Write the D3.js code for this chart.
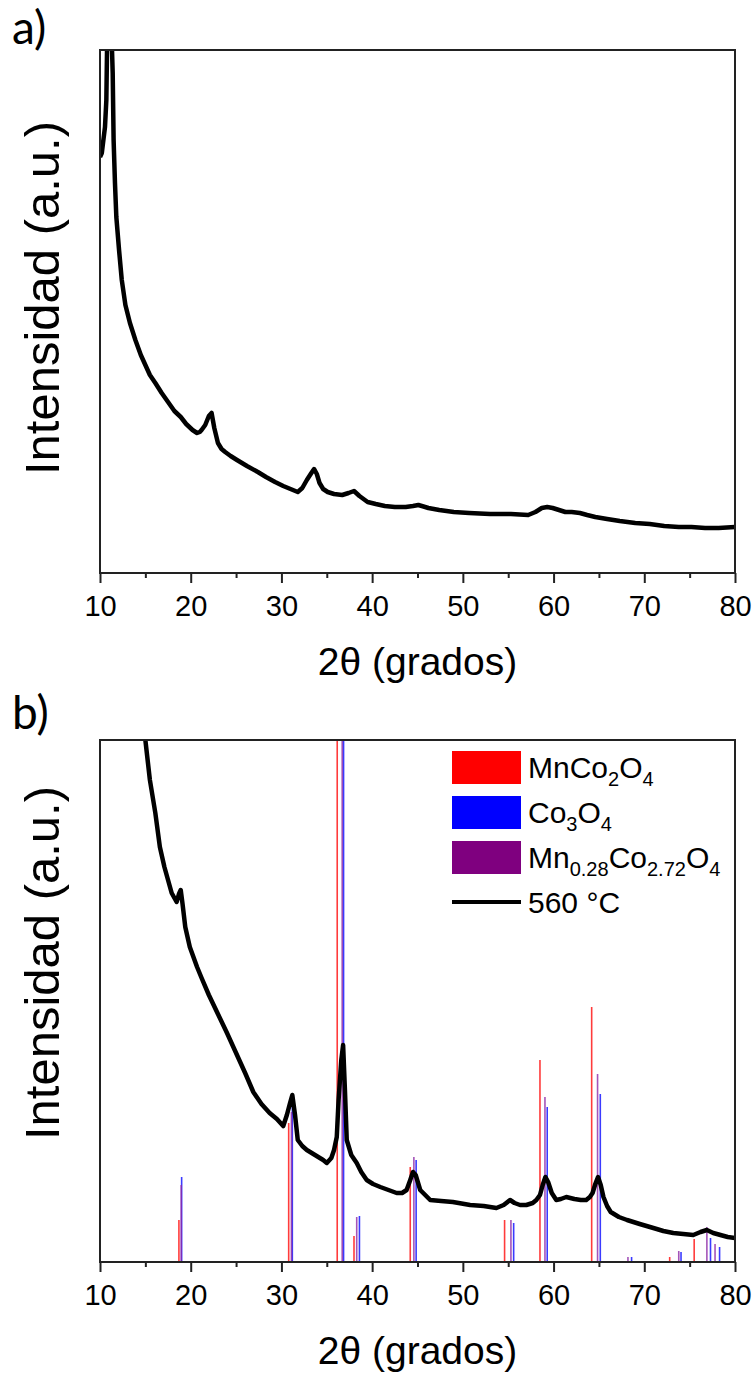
<!DOCTYPE html>
<html>
<head>
<meta charset="utf-8">
<script src="https://cdn.jsdelivr.net/npm/d3@7"></script>
<style>
  body { margin: 0; background: #fff; }
  svg text { font-family: "Liberation Sans", Arial, sans-serif; fill: #000; }
</style>
</head>
<body>
<div id="chart"></div>
<script>
// ---- data (2theta in degrees, intensity in a.u.) ----
var xTicks = [10, 20, 30, 40, 50, 60, 70, 80];
var xMinor = [15, 25, 35, 45, 55, 65, 75];

// panel a) pattern
var thetaA = [10.0, 10.2, 10.4, 10.55, 10.7, 10.8, 11.0, 11.2, 11.4, 11.5, 11.65, 11.8, 12.1, 12.4, 12.8,
  13.3, 13.9, 14.5, 15.0, 15.5, 16.1, 16.8, 17.5, 18.2, 18.9, 19.5, 20.2, 20.7, 21.0, 21.2, 21.6, 22.0,
  22.3, 22.6, 23.0, 23.4, 23.8, 24.4, 25.1, 26.2, 27.4, 28.3, 29.3, 30.2, 31.0, 31.8, 32.3, 32.8, 33.3,
  33.6, 33.9, 34.2, 34.6, 35.1, 35.8, 36.7, 37.4, 38.0, 38.6, 39.5, 40.4, 41.4, 42.5, 43.7, 44.5, 45.1,
  46.2, 47.4, 49.0, 50.7, 53.0, 55.3, 57.2, 58.0, 58.7, 59.3, 59.9, 60.6, 61.3, 62.0, 62.9, 63.7, 64.6,
  65.9, 67.3, 69.0, 70.6, 72.2, 73.8, 75.2, 76.7, 78.2, 80.0];
var intA = [416, 420, 435, 446, 473, 540, 600, 560, 500, 433, 390, 356, 323, 293, 268,
  250, 233, 218, 208, 198, 190, 180, 171, 162, 156, 149, 143, 140, 141, 143, 148, 157,
  160, 145, 130, 124, 121, 117, 113, 107, 101, 96, 91, 87, 84, 81, 85, 93, 100,
  104, 99, 90, 84, 81, 79, 78, 80, 82, 77, 71, 69, 67, 66, 66, 67, 68,
  65, 63, 61, 60, 59, 59, 58, 61, 65, 66, 65, 63, 61, 61, 60, 58, 56,
  54, 52, 50, 49, 47, 46, 46, 45, 45, 46];

// panel b) pattern, 560 °C
var thetaB = [14.8, 15.0, 15.5, 16.1, 16.6, 17.1, 17.5, 17.9, 18.45, 18.7, 18.9, 19.1, 19.4, 19.9, 20.7,
  21.2, 22.0, 23.0, 24.0, 25.0, 26.0, 26.9, 27.8, 28.7, 29.5, 30.2, 30.6, 30.95, 31.2, 31.5, 31.8,
  32.3, 32.8, 33.7, 34.6, 35.0, 35.5, 35.8, 36.1, 36.3, 36.6, 36.8, 37.0, 37.2, 37.7, 38.3, 38.8,
  39.4, 40.1, 40.9, 41.8, 42.7, 43.3, 43.8, 44.2, 44.5, 44.8, 45.3, 46.4, 47.6, 48.9, 50.8, 52.3,
  53.7, 54.5, 55.2, 55.7, 56.3, 57.0, 57.7, 58.1, 58.5, 58.8, 59.1, 59.4, 59.8, 60.3, 60.8, 61.4,
  62.3, 63.0, 63.6, 64.0, 64.3, 64.6, 64.9, 65.2, 65.5, 65.9, 66.3, 67.2, 68.1, 69.5, 71.0, 72.1,
  73.2, 74.3, 75.4, 76.2, 76.9, 77.6, 78.4, 79.2, 80.0];
var intB = [540, 522, 482, 449, 415, 395, 382, 369, 360, 368, 372, 358, 335, 315, 295,
  284, 267, 248, 229, 209, 189, 170, 158, 149, 143, 136, 147, 159, 167, 147, 122,
  116, 112, 107, 102, 99, 104, 112, 125, 162, 202, 217, 172, 122, 107, 99, 90,
  82, 78, 75, 72, 69, 69, 72, 82, 90, 87, 72, 62, 61, 60, 57, 56,
  54, 57, 62, 59, 57, 57, 59, 62, 67, 77, 85, 80, 69, 62, 63, 65,
  63, 62, 62, 65, 69, 78, 85, 77, 65, 56, 50, 45, 42, 38, 34, 31,
  29, 28, 27, 30, 32, 29, 27, 25, 24];

// reference patterns (stick positions and relative heights)
var mncoPos = [18.7, 30.8, 36.15, 38.0, 44.2, 54.6, 58.5, 64.2, 72.8, 75.5];
var mncoInt = [42, 139, 560, 26, 95, 42, 202, 255, 5, 23];
var co3Pos = [19.0, 31.2, 36.85, 38.6, 44.85, 55.6, 59.3, 65.15, 68.6, 74.05, 77.3, 78.3];
var co3Int = [85, 162, 560, 46, 102, 39, 155, 168, 5, 10, 24, 15];
var mixPos = [18.95, 31.1, 36.7, 38.3, 44.6, 55.3, 59.05, 64.85, 68.2, 73.8, 76.9, 77.8];
var mixInt = [77, 150, 560, 45, 105, 42, 165, 188, 5, 11, 35, 18];

var legendNames = [["MnCo", "2", "O", "4"], ["Co", "3", "O", "4"], ["Mn", "0.28", "Co", "2.72", "O", "4"]];
var legendColors = ["#ff0000", "#0000ff", "#7f007f"];
var stickColors = ["#ff1a1a", "#1a1aff", "#8e2aa8"];

// ---- layout ----
var W = 754, H = 1375;
var left = 100, right = 735;
var panels = [
  {id: "a", top: 50, bottom: 573, yMax: 523, label: "a)", labelY: 44, titleY: 298},
  {id: "b", top: 740, bottom: 1262, yMax: 522, label: "b)", labelY: 729, titleY: 963}
];
var sans = "'Liberation Sans', Arial, sans-serif";

var svg = d3.select("#chart").append("svg")
  .attr("width", W).attr("height", H);

var x = d3.scaleLinear().domain([10, 80]).range([left, right]);

panels.forEach(function(p) {
  p.y = d3.scaleLinear().domain([0, p.yMax]).range([p.bottom, p.top]);

  svg.append("clipPath").attr("id", "clip-" + p.id)
    .append("rect")
    .attr("x", left).attr("y", p.top)
    .attr("width", right - left).attr("height", p.bottom - p.top);

  // minor ticks
  svg.append("g")
    .attr("transform", "translate(0," + p.bottom + ")")
    .call(d3.axisBottom(x).tickValues(xMinor).tickSize(5).tickFormat(""))
    .call(function(g) { g.select(".domain").remove(); })
    .selectAll("line").attr("stroke", "#222").attr("stroke-width", 2);

  // major ticks + labels
  var ax = svg.append("g")
    .attr("transform", "translate(0," + p.bottom + ")")
    .call(d3.axisBottom(x).tickValues(xTicks).tickSize(10).tickPadding(12).tickFormat(d3.format("d")));
  ax.attr("font-family", sans);
  ax.select(".domain").remove();
  ax.selectAll("line").attr("stroke", "#222").attr("stroke-width", 2);
  ax.selectAll("text").style("font-size", "29px").style("font-family", sans).attr("fill", "#000");

  // axis titles
  svg.append("text")
    .attr("x", (left + right) / 2).attr("y", p.bottom + 102)
    .attr("text-anchor", "middle")
    .style("font-family", sans)
    .style("font-size", "39px")
    .text("2\u03b8 (grados)");

  svg.append("text")
    .attr("transform", "translate(59," + p.titleY + ") rotate(-90)")
    .attr("text-anchor", "middle")
    .style("font-family", sans)
    .style("font-size", "49px")
    .text("Intensidad (a.u.)");

  svg.append("text")
    .attr("x", 12).attr("y", p.labelY)
    .style("font-family", "Lato, 'Open Sans', sans-serif")
    .style("font-size", "46px")
    .text(p.label);
});

var pa = panels[0], pb = panels[1];

// panel a curve
var rowsA = thetaA.map(function(t, i) { return {t: t, v: intA[i]}; });
svg.append("path")
  .datum(rowsA)
  .attr("clip-path", "url(#clip-a)")
  .attr("fill", "none")
  .attr("stroke", "#000")
  .attr("stroke-width", 4.5)
  .attr("stroke-linejoin", "round")
  .attr("d", d3.line().x(function(d) { return x(d.t); }).y(function(d) { return pa.y(d.v); }));

// panel b sticks
var gSticks = svg.append("g").attr("clip-path", "url(#clip-b)");
[[mncoPos, mncoInt], [co3Pos, co3Int], [mixPos, mixInt]].forEach(function(s, k) {
  gSticks.selectAll(".stick" + k)
    .data(s[0].map(function(t, i) { return {t: t, v: s[1][i]}; }))
    .enter().append("line")
    .attr("class", "stick" + k)
    .attr("x1", function(d) { return x(d.t); })
    .attr("x2", function(d) { return x(d.t); })
    .attr("y1", pb.y(0))
    .attr("y2", function(d) { return pb.y(d.v); })
    .attr("stroke", stickColors[k])
    .attr("stroke-width", 1.6)
    .attr("opacity", k == 2 ? 0.8 : 0.85);
});

// panel b curve
var rowsB = thetaB.map(function(t, i) { return {t: t, v: intB[i]}; });
svg.append("path")
  .datum(rowsB)
  .attr("clip-path", "url(#clip-b)")
  .attr("fill", "none")
  .attr("stroke", "#000")
  .attr("stroke-width", 4.5)
  .attr("stroke-linejoin", "round")
  .attr("d", d3.line().x(function(d) { return x(d.t); }).y(function(d) { return pb.y(d.v); }));

// frames
panels.forEach(function(p) {
  svg.append("rect")
    .attr("x", left).attr("y", p.top)
    .attr("width", right - left).attr("height", p.bottom - p.top)
    .attr("fill", "none").attr("stroke", "#222").attr("stroke-width", 2);
});

// legend
var lg = svg.append("g");
legendNames.forEach(function(parts, i) {
  var cy = 767 + i * 45;
  lg.append("rect")
    .attr("x", 452).attr("y", cy - 16)
    .attr("width", 69).attr("height", 33)
    .attr("fill", legendColors[i]);
  var t = lg.append("text").attr("x", 528).attr("y", cy + 11)
    .style("font-family", sans).style("font-size", "30px");
  parts.forEach(function(s, j) {
    var sub = j % 2 == 1;
    t.append("tspan")
      .style("font-size", sub ? "20px" : "30px")
      .attr("dy", sub ? 8 : (j > 0 ? -8 : 0))
      .text(s);
  });
});
lg.append("line")
  .attr("x1", 452).attr("x2", 521)
  .attr("y1", 902).attr("y2", 902)
  .attr("stroke", "#000").attr("stroke-width", 4);
lg.append("text")
  .attr("x", 528).attr("y", 913)
  .style("font-family", sans)
  .style("font-size", "30px")
  .text("560 \u00b0C");
</script>
</body>
</html>
